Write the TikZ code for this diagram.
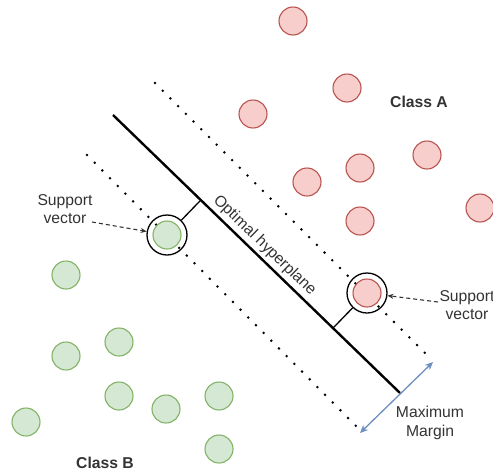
\documentclass[tikz,border=0pt]{standalone}
\usepackage{fontspec}
\setmainfont{Liberation Sans}
\usetikzlibrary{calc,arrows.meta}

\definecolor{redfill}{HTML}{F8CECC}
\definecolor{redline}{HTML}{B85450}
\definecolor{greenfill}{HTML}{D5E8D4}
\definecolor{greenline}{HTML}{82B366}
\definecolor{bluearrow}{HTML}{6C8EBF}
\definecolor{textgray}{HTML}{333333}

\tikzset{
  pointA/.style={circle, minimum size=28pt, inner sep=0pt, fill=redfill, draw=redline, line width=1.1pt},
  pointB/.style={circle, minimum size=28pt, inner sep=0pt, fill=greenfill, draw=greenline, line width=1.1pt},
  ring/.style={circle, minimum size=40pt, inner sep=0pt, draw=black, line width=1.3pt},
  marginline/.style={line width=2.8pt, dash pattern=on 0pt off 10.9pt, line cap=round},
  hyper/.style={line width=2.4pt, black},
  foot/.style={line width=1.3pt, black},
  pointer/.style={dash pattern=on 4pt off 3pt, line width=1.1pt, textgray, -{Stealth[length=6pt,width=5pt]}},
  label/.style={font=\fontsize{15.7}{18.5}\selectfont, text=textgray, align=center, inner sep=0pt},
  classlabel/.style={font=\fontsize{15.7}{18.5}\selectfont\bfseries, text=textgray, inner sep=0pt}
}

\begin{document}
\begin{tikzpicture}[x=1pt, y=-1pt]
  \useasboundingbox (0,0) rectangle (493,472);

  % margin boundaries (dotted) and the separating hyperplane
  \coordinate (u1) at (155,83);  \coordinate (u2) at (432,360);
  \coordinate (l1) at (87,155);  \coordinate (l2) at (360,430);
  \coordinate (h1) at (113,115); \coordinate (h2) at (400,393);
  \draw[marginline] (u1) -- (u2);
  \draw[marginline] (l1) -- (l2);
  \draw[hyper] (h1) -- (h2)
    node[pos=0.5, anchor=south, rotate=-44.1, inner sep=3pt,
         font=\fontsize{15.7}{18.5}\selectfont, text=textgray] (hyplabel) {Optimal hyperplane};

  % class A points
  \node[pointA] (a1) at (293,21) {};
  \node[pointA] (a2) at (347,88) {};
  \node[pointA] (a3) at (253,114) {};
  \node[pointA] (a4) at (427,155) {};
  \node[pointA] (a5) at (360,168) {};
  \node[pointA] (a6) at (307,182) {};
  \node[pointA] (a7) at (360,221) {};
  \node[pointA] (a8) at (480,208) {};
  \node[pointA] (sva) at (367,293) {};

  % class B points
  \node[pointB] (svb) at (167,235) {};
  \node[pointB] (b1) at (66,275) {};
  \node[pointB] (b2) at (66,356) {};
  \node[pointB] (b3) at (119,342) {};
  \node[pointB] (b4) at (119,396) {};
  \node[pointB] (b5) at (166,409) {};
  \node[pointB] (b6) at (219,396) {};
  \node[pointB] (b7) at (26,422) {};
  \node[pointB] (b8) at (219,449) {};

  % rings marking the support vectors
  \node[ring] (ringb) at (svb) {};
  \node[ring] (ringa) at (sva) {};

  % perpendiculars from the support vectors to the hyperplane
  \coordinate (footb) at ($(h1)!(svb)!(h2)$);
  \coordinate (foota) at ($(h1)!(sva)!(h2)$);
  \draw[foot] (ringb) -- (footb);
  \draw[foot] (ringa) -- (foota);

  % labels
  \node[classlabel] (classA) at (419,102) {Class A};
  \node[classlabel] (classB) at (105,463) {Class B};
  \node[label] (svlabelb) at (65,209) {Support\\vector};
  \node[label] (svlabela) at (467,305) {Support\\vector};
  \node[label] (marginlabel) at (430,423) {Maximum\\Margin};

  % pointers to the support vectors
  \coordinate (pb) at (92,222);
  \coordinate (pa) at (438,302);
  \draw[pointer] (pb) -- (ringb);
  \draw[pointer] (pa) -- (ringa);

  % maximum margin
  \coordinate (m1) at (360,433);
  \coordinate (m2) at (433,362);
  \draw[bluearrow, line width=1.3pt, {Stealth[length=8pt,width=7pt]}-{Stealth[length=8pt,width=7pt]}] (m1) -- (m2);
\end{tikzpicture}
\end{document}
